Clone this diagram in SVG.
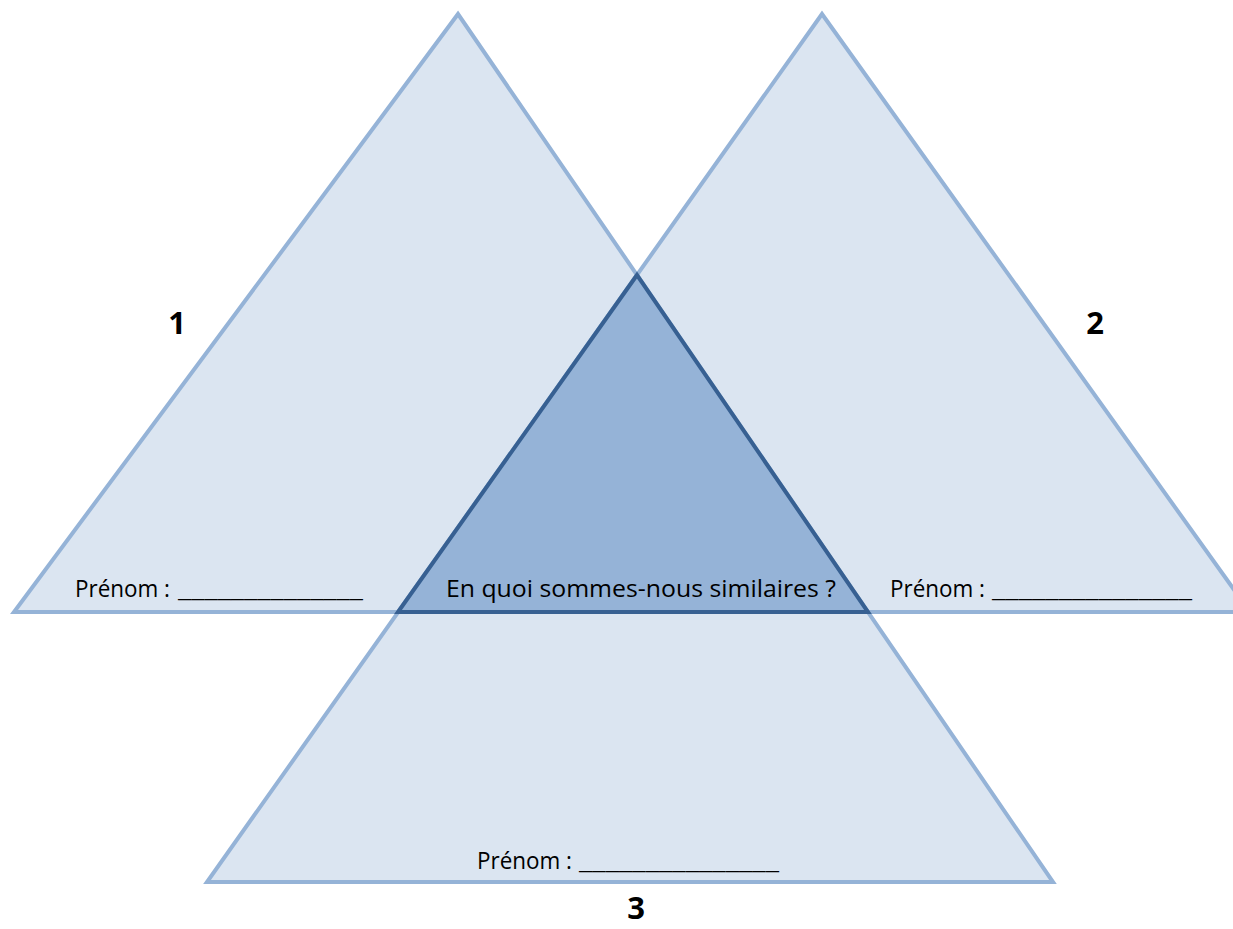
<svg xmlns="http://www.w3.org/2000/svg" width="1233" height="929" viewBox="0 0 1233 929">
<style>
.tri{fill:#DBE5F1;stroke:#95B3D7;stroke-width:4;stroke-linejoin:miter}
.mid{fill:#95B3D7;stroke:#376092;stroke-width:4}
.lbl{font-family:"Open Sans","Liberation Sans",sans-serif;font-size:23px;fill:#000}
.num{font-family:"Open Sans","Liberation Sans",sans-serif;font-size:31px;font-weight:bold;fill:#000;text-anchor:middle}
</style>
<rect width="1233" height="929" fill="#fff"/>
<g id="triangle1"><polygon class="tri" points="458,14 14,612 868,612"/></g>
<g id="triangle2"><polygon class="tri" points="822,14 398,612 1250,612"/></g>
<g id="triangle3"><polygon class="tri" points="637,275 207,882 1053,882"/></g>
<g id="center"><polygon class="mid" points="637,275 398,612 868,612"/></g>
<g id="labels">
<text class="lbl" y="597"><tspan x="75" textLength="95" lengthAdjust="spacingAndGlyphs">Prénom :</tspan><tspan x="178" textLength="185" lengthAdjust="spacingAndGlyphs">______________</tspan></text>
<text class="lbl" y="597"><tspan x="890" textLength="95" lengthAdjust="spacingAndGlyphs">Prénom :</tspan><tspan x="992" textLength="200" lengthAdjust="spacingAndGlyphs">_______________</tspan></text>
<text class="lbl" y="869"><tspan x="477" textLength="95" lengthAdjust="spacingAndGlyphs">Prénom :</tspan><tspan x="579" textLength="200" lengthAdjust="spacingAndGlyphs">_______________</tspan></text>
<text class="lbl" x="446" y="597" textLength="390" lengthAdjust="spacingAndGlyphs">En quoi sommes-nous similaires ?</text>
<text class="num" x="177" y="334">1</text>
<text class="num" x="1095" y="334">2</text>
<text class="num" x="636" y="919">3</text>
</g>
<g id="connectors"></g>
</svg>
